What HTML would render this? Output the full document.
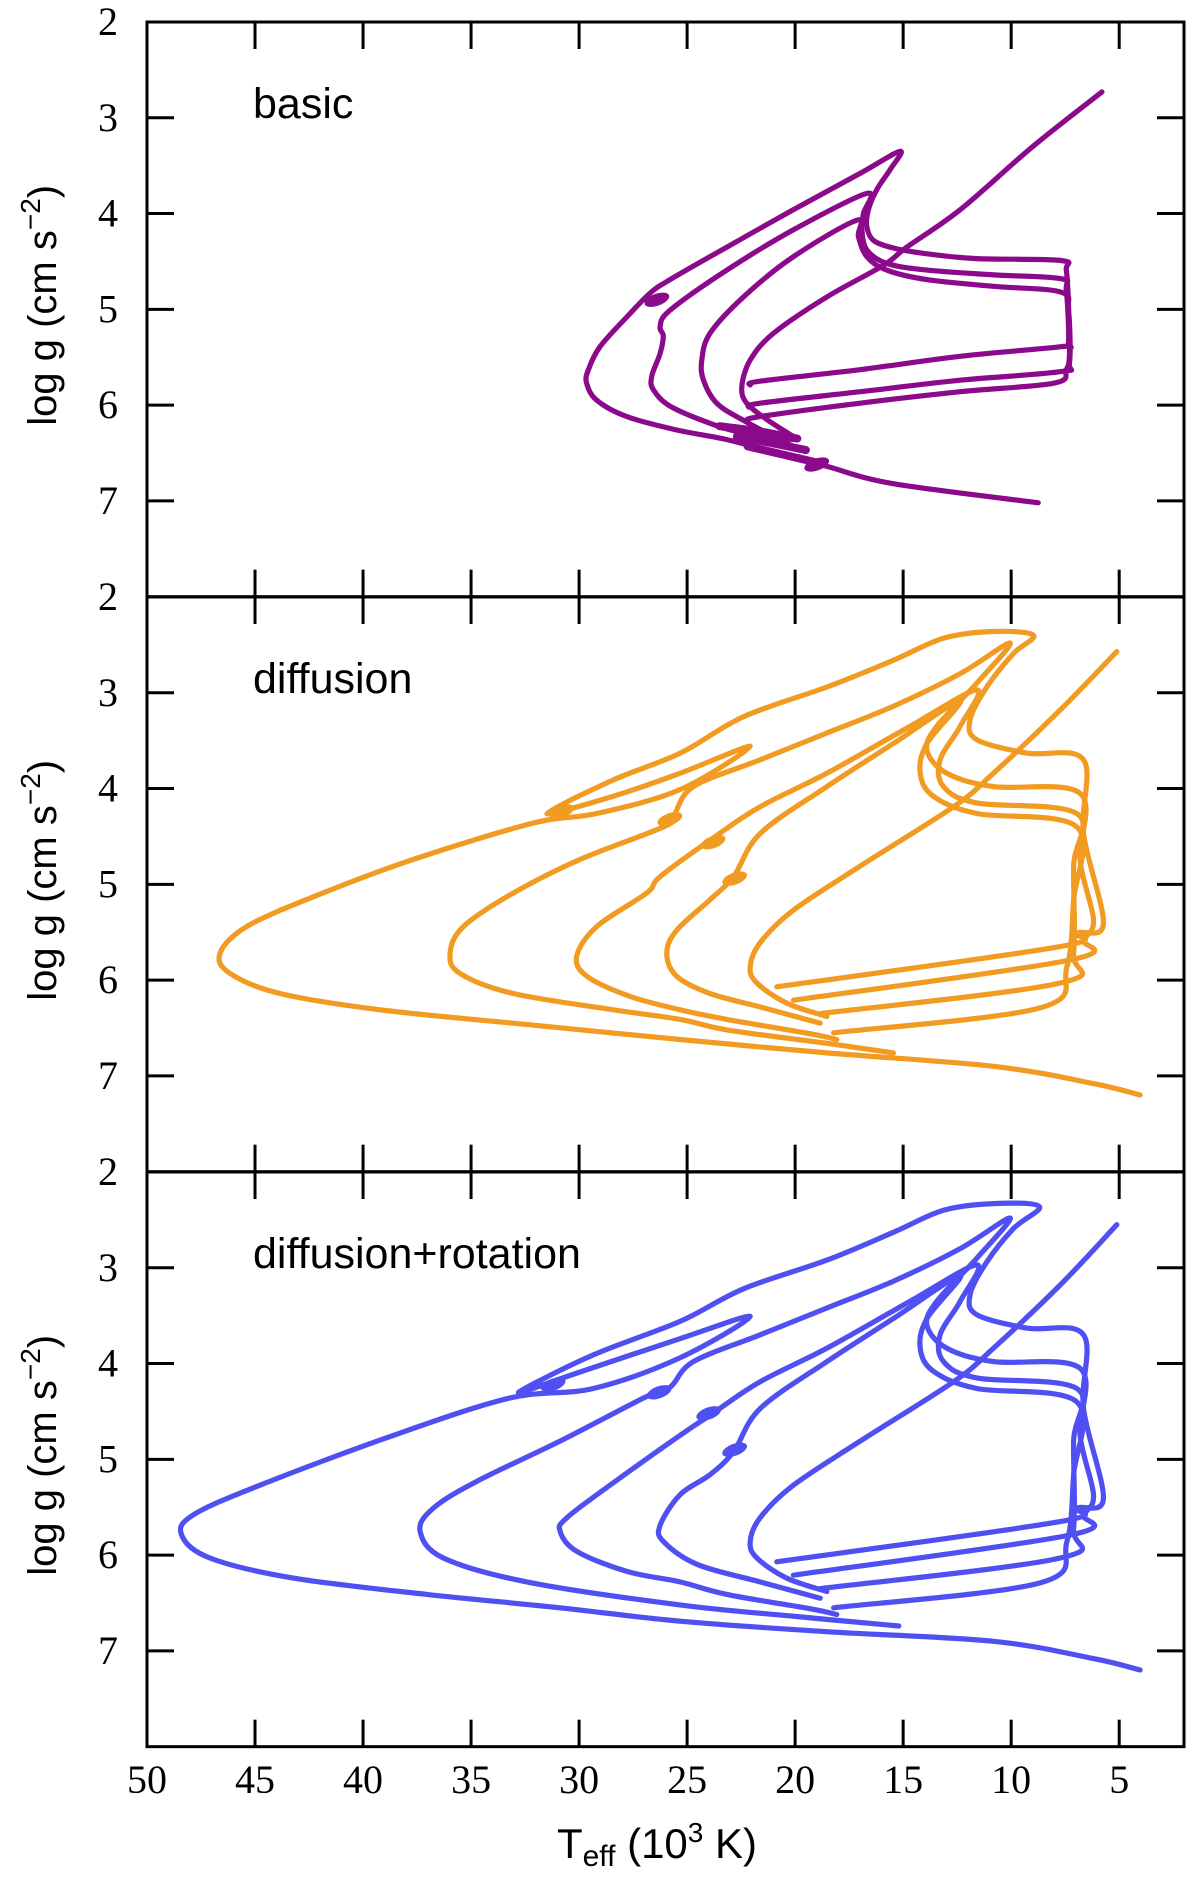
<!DOCTYPE html>
<html><head><meta charset="utf-8"><style>
html,body{margin:0;padding:0;background:#fff;}
svg{display:block;}
.tk{font-family:"Liberation Serif",serif;font-size:40px;fill:#000;}
.lb{font-family:"Liberation Sans",sans-serif;fill:#000;}
</style></head><body>
<svg id="chart" width="1200" height="1899" viewBox="0 0 1200 1899" xmlns="http://www.w3.org/2000/svg">
<g id="axes"></g>
<g id="tracks"></g>
<text class="lb" x="657" y="1858" font-size="42" text-anchor="middle">T<tspan font-size="30" dy="8">eff</tspan><tspan dy="-8"> (10</tspan><tspan font-size="28" dy="-16">3</tspan><tspan dy="16"> K)</tspan></text>
</svg>
<script>
// x-axis ticks / labels
const xTickValues = [45,40,35,30,25,20,15,10,5];
const xTickLabels = ["50","45","40","35","30","25","20","15","10","5"];
const xLabelValues = [50,45,40,35,30,25,20,15,10,5];
const yTickValues = [3,4,5,6,7];
const yTickLabels = ["2","3","4","5","6","7"];
const yLabelValues = [2,3,4,5,6,7];
const panelNames = ["basic","diffusion","diffusion+rotation"];
const panelColors = ["#8b0a8b","#f29b22","#5050f2"];

// Panel 1 (basic)
const p1_trackA_T = [22.24,21.62,16.99,12.36,8.0,7.45,7.3,7.35,7.45,7.7,11.59,13.90,15.45,16.37,16.68,16.61,16.22,15.60,15.14,16.99,20.08,23.16,25.79,26.71,27.79,29.03,29.57,29.65,29.18,27.79,25.48,23.16,20.85,18.53,15.45,8.75];
const p1_trackA_g = [6.16,6.12,5.98,5.86,5.77,5.63,5.46,4.94,4.59,4.49,4.47,4.42,4.36,4.28,4.14,3.96,3.75,3.54,3.35,3.58,3.96,4.35,4.69,4.83,5.08,5.39,5.63,5.77,5.95,6.12,6.26,6.36,6.50,6.64,6.82,7.02];
const p1_trackB_T = [22.08,21.62,16.99,12.36,7.7,7.35,7.45,7.7,10.82,13.90,15.76,16.68,16.91,16.84,16.68,20.08,23.16,25.79,26.25,26.10,26.25,26.64,26.56,25.79,23.94,22.39,20.08];
const p1_trackB_g = [5.79,5.75,5.63,5.49,5.39,5.35,4.80,4.68,4.64,4.59,4.52,4.38,4.17,4.00,3.79,4.17,4.59,5.01,5.18,5.28,5.46,5.70,5.84,6.01,6.19,6.29,6.36];
const p1_trackC_T = [22.16,21.62,16.99,12.36,7.7,7.3,7.35,7.7,10.82,13.90,15.76,16.68,17.07,17.15,20.08,22.39,23.94,24.32,24.24,23.63,22.39,19.77];
const p1_trackC_g = [6.02,5.98,5.86,5.74,5.65,5.56,5.01,4.82,4.76,4.69,4.59,4.45,4.24,4.07,4.45,4.87,5.25,5.53,5.74,5.98,6.16,6.47];
const p1_trackD_T = [5.8,9.0,12.36,14.83,15.91,18.53,21.0,22.08,22.47,22.24,21.31,19.93];
const p1_trackD_g = [2.73,3.30,3.96,4.35,4.54,4.87,5.25,5.53,5.81,5.98,6.15,6.35];
const p1_hook1_T = [23.5,21.5,19.9];
const p1_hook1_g = [6.22,6.28,6.35];
const p1_hook2_T = [22.7,21.0,19.5];
const p1_hook2_g = [6.33,6.40,6.47];
const p1_hook3_T = [22.2,20.5,18.8];
const p1_hook3_g = [6.43,6.52,6.61];
const p1_blob_T = [26.4,19.0];
const p1_blob_g = [4.90,6.62];

// Panel 2 (diffusion)
const p2_trackO_T = [20.85,7.73,6.96,5.73,6.65,6.65,9.28,11.59,11.9,11.13,9.89,8.97,10.82,13.13,15.45,18.53,22.39,25.32,28.41,31.49,28.41,25.32,22.08,25.32,29.18,32.11,37.67,42.3,45.38,46.62,46.16,43.84,39.21,33.04,25.32,18.53,10.82,6.19,4.03];
const p2_trackO_g = [6.07,5.65,5.51,5.41,4.47,3.70,3.63,3.49,3.28,2.94,2.59,2.40,2.36,2.43,2.66,2.94,3.25,3.63,3.91,4.26,4.08,3.84,3.56,4.01,4.26,4.36,4.74,5.13,5.44,5.72,5.93,6.14,6.31,6.45,6.62,6.76,6.90,7.08,7.20];
const p2_track2_T = [20.08,7.27,6.65,6.19,6.81,6.81,10.82,12.98,13.9,13.44,11.59,10.05,12.36,15.45,18.53,21.62,24.71,25.63,26.09,29.95,33.04,35.35,35.97,35.51,33.04,28.41,25.32,23.16,18.53,15.45];
const p2_track2_g = [6.21,5.79,5.58,5.37,4.75,4.05,3.98,3.84,3.60,3.35,2.90,2.48,2.80,3.14,3.42,3.70,3.98,4.29,4.40,4.74,5.09,5.44,5.72,5.93,6.14,6.31,6.41,6.52,6.66,6.76];
const p2_track3_T = [18.84,7.73,7.11,7.11,6.96,11.59,13.13,13.29,12.36,11.59,14.68,18.53,21.62,23.94,26.25,26.87,29.18,30.11,29.64,27.64,25.32,23.16,19.31,18.07];
const p2_track3_g = [6.35,6.03,5.72,4.81,4.26,4.15,3.98,3.70,3.35,2.97,3.35,3.84,4.19,4.54,4.92,5.09,5.44,5.75,5.96,6.17,6.31,6.41,6.56,6.62];
const p2_track4_T = [18.22,8.66,7.42,7.11,6.96,11.59,13.6,14.21,13.9,12.36,15.45,18.53,21.62,22.85,23.94,25.48,25.94,25.48,23.94,21.62,18.84];
const p2_track4_g = [6.55,6.29,5.86,5.16,4.40,4.26,4.08,3.84,3.53,3.08,3.53,3.98,4.47,4.92,5.16,5.48,5.72,5.96,6.14,6.28,6.45];
const p2_track5_T = [5.11,7.73,10.82,12.67,16.99,20.08,21.62,22.08,21.77,20.39,18.53];
const p2_track5_g = [2.57,3.18,3.84,4.19,4.81,5.27,5.61,5.86,6.03,6.24,6.38];
const p2_blob_T = [30.8,25.8,23.8,22.8];
const p2_blob_g = [4.24,4.32,4.56,4.94];

// Panel 3 (diffusion+rotation)
const p3_trackO_T = [20.85,7.73,6.96,5.73,6.65,6.65,9.28,11.59,11.9,11.13,9.89,8.70,10.82,13.13,15.45,18.53,22.39,25.33,29.34,32.8,30.11,25.33,22.08,25.33,29.34,33.2,38.6,44.77,47.86,48.4,47.09,43.23,37.05,30.88,25.33,18.53,10.82,6.19,4.03];
const p3_trackO_g = [6.07,5.65,5.51,5.41,4.47,3.70,3.63,3.49,3.28,2.94,2.59,2.36,2.33,2.40,2.63,2.92,3.22,3.56,3.91,4.30,4.10,3.74,3.51,3.94,4.26,4.36,4.75,5.27,5.58,5.79,6.03,6.24,6.41,6.55,6.69,6.80,6.90,7.08,7.20];
const p3_track2_T = [20.08,7.27,6.65,6.19,6.81,6.81,10.82,12.98,13.9,13.44,11.59,10.05,12.36,15.45,18.53,21.62,24.71,25.8,27.02,30.88,34.74,36.75,37.36,36.28,32.42,25.33,20.0,15.2];
const p3_track2_g = [6.21,5.79,5.58,5.37,4.75,4.05,3.98,3.84,3.60,3.35,2.90,2.48,2.80,3.14,3.42,3.70,3.98,4.25,4.36,4.81,5.23,5.51,5.75,6.03,6.28,6.52,6.64,6.74];
const p3_track3_T = [18.84,7.73,7.11,7.11,6.96,11.59,13.13,13.29,12.36,11.59,14.68,18.53,21.62,23.94,25.33,28.57,30.57,30.88,30.11,27.79,25.33,23.16,19.31,18.07];
const p3_track3_g = [6.35,6.03,5.72,4.81,4.26,4.15,3.98,3.70,3.35,2.97,3.35,3.84,4.19,4.54,4.75,5.27,5.61,5.75,5.96,6.17,6.28,6.41,6.56,6.62];
const p3_track4_T = [18.22,8.66,7.42,7.11,6.96,11.59,13.6,14.21,13.9,12.36,15.45,18.53,21.62,22.85,23.94,25.33,26.25,26.09,24.5,21.62,18.84];
const p3_track4_g = [6.55,6.29,5.86,5.16,4.40,4.26,4.08,3.84,3.53,3.08,3.53,3.98,4.47,4.92,5.16,5.37,5.69,5.86,6.10,6.28,6.45];
const p3_track5_T = [5.11,7.73,10.82,12.67,16.99,20.08,21.62,22.08,21.77,20.39,18.53];
const p3_track5_g = [2.55,3.18,3.84,4.19,4.81,5.27,5.61,5.86,6.03,6.24,6.38];
const p3_blob_T = [31.2,26.3,24.0,22.8];
const p3_blob_g = [4.22,4.30,4.52,4.90];

const NS = "http://www.w3.org/2000/svg";
const X0 = 147, X1 = 1184, tops = [22, 597, 1172], PH = 574.67;
function xs(T){ return X0 + (50 - T) * (X1 - X0) / 48; }
function ys(g, p){ return tops[p] + (g - 2) * PH / 6; }
function mk(tag, attrs, parent){ const e = document.createElementNS(NS, tag); for (const k in attrs) e.setAttribute(k, attrs[k]); parent.appendChild(e); return e; }

const axes = document.getElementById('axes');
const tracks = document.getElementById('tracks');

for (let p = 0; p < 3; p++) {
  const fr = mk('rect', {x: X0, y: tops[p], width: X1 - X0, height: PH, fill: 'none', stroke: '#000', 'stroke-width': 3}, axes);
  
  
  xTickValues.forEach(function(v){
    const x = xs(v);
    const t1 = mk('line', {x1: x, x2: x, y1: tops[p], y2: tops[p] + 27, stroke: '#000', 'stroke-width': 3}, axes);
    
    
    const t2 = mk('line', {x1: x, x2: x, y1: tops[p] + PH - 27, y2: tops[p] + PH, stroke: '#000', 'stroke-width': 3}, axes);
    
    
  });
  yTickValues.forEach(function(v){
    const y = ys(v, p);
    const t1 = mk('line', {x1: X0, x2: X0 + 27, y1: y, y2: y, stroke: '#000', 'stroke-width': 3}, axes);
    
    
    const t2 = mk('line', {x1: X1 - 27, x2: X1, y1: y, y2: y, stroke: '#000', 'stroke-width': 3}, axes);
    
    
  });
  yLabelValues.forEach(function(v, i){
    const t = mk('text', {x: 108, y: ys(v, p) + 13, 'text-anchor': 'middle', class: 'tk'}, axes);
    t.textContent = yTickLabels[i];
    
    
  });
  const cy = tops[p] + PH / 2 - 4;
  const yt = mk('text', {x: 0, y: 0, class: 'lb', 'font-size': 40, 'text-anchor': 'middle', transform: 'translate(56,' + cy + ') rotate(-90)'}, axes);
  yt.innerHTML = 'log g (cm s<tspan font-size="28" dy="-16">\u22122</tspan><tspan dy="16">)</tspan>';
  
  
  const pl = mk('text', {x: 253, y: tops[p] + 96, class: 'lb', 'font-size': 43}, axes);
  pl.textContent = panelNames[p];
  
  
}
xLabelValues.forEach(function(v, i){
  const t = mk('text', {x: xs(v), y: 1793, 'text-anchor': 'middle', class: 'tk'}, axes);
  t.textContent = xTickLabels[i];
  
  
});

function drawTrack(Ts, gs, p, name, w){
  const P = Ts.map(function(t, i){ return [xs(t), ys(gs[i], p)]; });
  let d = 'M' + P[0][0].toFixed(1) + ',' + P[0][1].toFixed(1);
  for (let i = 0; i < P.length - 1; i++) {
    const p0 = P[Math.max(0, i - 1)], p1 = P[i], p2 = P[i + 1], p3 = P[Math.min(P.length - 1, i + 2)];
    const c1x = p1[0] + (p2[0] - p0[0]) / 6, c1y = p1[1] + (p2[1] - p0[1]) / 6;
    const c2x = p2[0] - (p3[0] - p1[0]) / 6, c2y = p2[1] - (p3[1] - p1[1]) / 6;
    d += ' C' + c1x.toFixed(1) + ',' + c1y.toFixed(1) + ' ' + c2x.toFixed(1) + ',' + c2y.toFixed(1) + ' ' + p2[0].toFixed(1) + ',' + p2[1].toFixed(1);
  }
  const e = mk('path', {d: d, fill: 'none', stroke: panelColors[p], 'stroke-width': w || 5.2, 'stroke-linejoin': 'round', 'stroke-linecap': 'round'}, tracks);
  
  
}
function drawBlobs(Ts, gs, p, name){
  for (let i = 0; i < Ts.length; i++) {
    const e = mk('ellipse', {cx: xs(Ts[i]), cy: ys(gs[i], p), rx: 13, ry: 6, fill: panelColors[p], transform: 'rotate(-20 ' + xs(Ts[i]) + ' ' + ys(gs[i], p) + ')'}, tracks);
    
    
  }
}
drawTrack(p1_trackA_T, p1_trackA_g, 0, 'basic-track-a');
drawTrack(p1_trackB_T, p1_trackB_g, 0, 'basic-track-b');
drawTrack(p1_trackC_T, p1_trackC_g, 0, 'basic-track-c');
drawTrack(p1_trackD_T, p1_trackD_g, 0, 'basic-track-d');
drawTrack(p1_hook1_T, p1_hook1_g, 0, 'basic-hook', 8);
drawTrack(p1_hook2_T, p1_hook2_g, 0, 'basic-hook', 8);
drawTrack(p1_hook3_T, p1_hook3_g, 0, 'basic-hook', 8);
drawBlobs(p1_blob_T, p1_blob_g, 0, 'basic-blob');

drawTrack(p2_trackO_T, p2_trackO_g, 1, 'diffusion-track-1');
drawTrack(p2_track2_T, p2_track2_g, 1, 'diffusion-track-2');
drawTrack(p2_track3_T, p2_track3_g, 1, 'diffusion-track-3');
drawTrack(p2_track4_T, p2_track4_g, 1, 'diffusion-track-4');
drawTrack(p2_track5_T, p2_track5_g, 1, 'diffusion-track-5');
drawBlobs(p2_blob_T, p2_blob_g, 1, 'diffusion-blob');

drawTrack(p3_trackO_T, p3_trackO_g, 2, 'rotation-track-1');
drawTrack(p3_track2_T, p3_track2_g, 2, 'rotation-track-2');
drawTrack(p3_track3_T, p3_track3_g, 2, 'rotation-track-3');
drawTrack(p3_track4_T, p3_track4_g, 2, 'rotation-track-4');
drawTrack(p3_track5_T, p3_track5_g, 2, 'rotation-track-5');
drawBlobs(p3_blob_T, p3_blob_g, 2, 'rotation-blob');
</script>
</body></html>
